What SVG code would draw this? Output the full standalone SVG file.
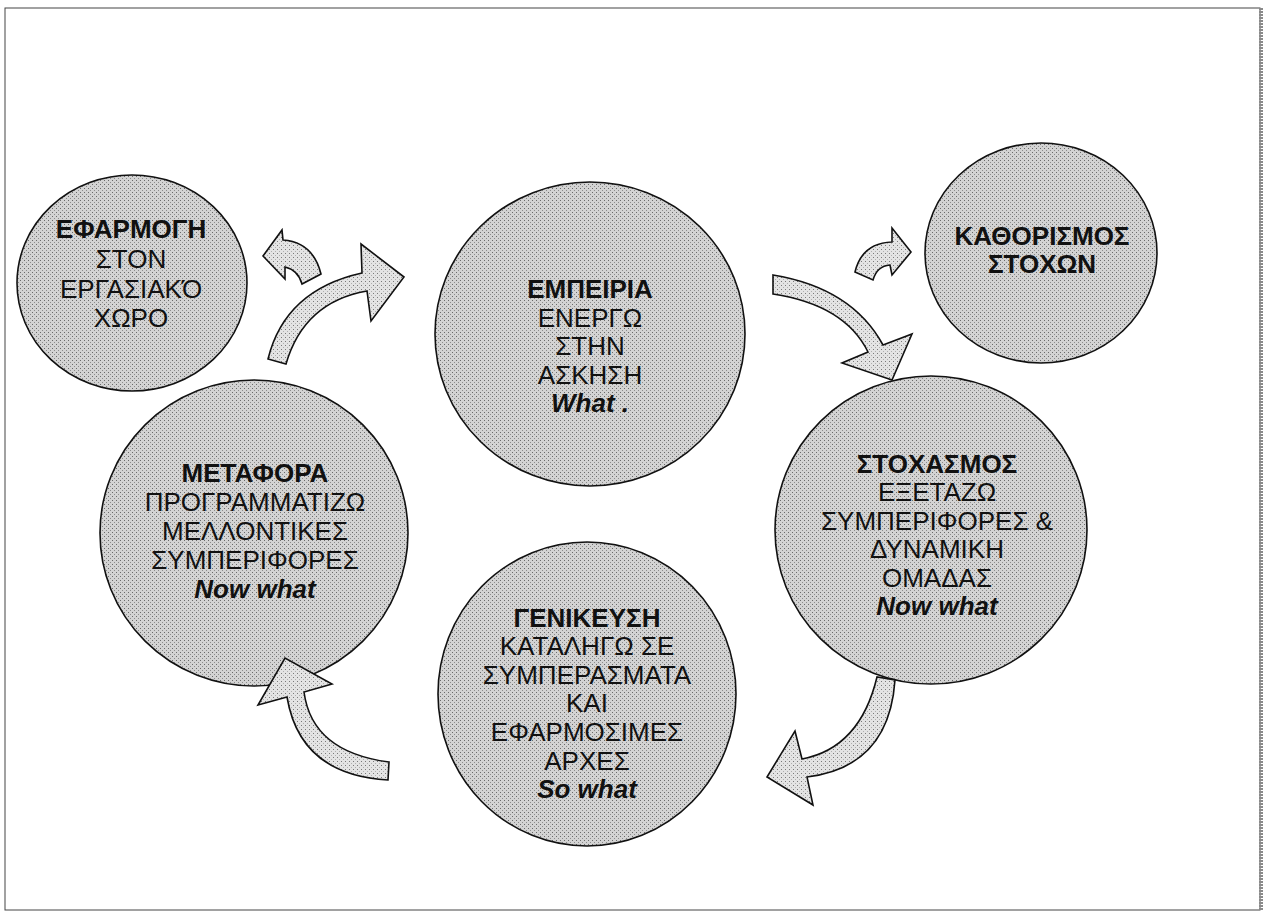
<svg xmlns="http://www.w3.org/2000/svg" width="1270" height="917" viewBox="0 0 1270 917">
<defs>
<pattern id="dots" width="4" height="4" patternUnits="userSpaceOnUse">
<rect width="4" height="4" fill="#d3d3d3"/>
<rect x="0" y="0" width="1" height="1" fill="#6a6a6a"/>
<rect x="2" y="2" width="1" height="1" fill="#8c8c8c"/>
</pattern>
<pattern id="dots2" width="4" height="4" patternUnits="userSpaceOnUse">
<rect width="4" height="4" fill="#e4e4e4"/>
<rect x="1" y="1" width="1" height="1" fill="#7a7a7a"/>
<rect x="3" y="3" width="1" height="1" fill="#b0b0b0"/>
</pattern>
</defs>
<style>
.node ellipse{fill:url(#dots);stroke:#111;stroke-width:1.6}
.arrow{fill:url(#dots2);stroke:#111;stroke-width:1.6;stroke-linejoin:miter}
text{font-family:"Liberation Sans",Arial,sans-serif;font-size:26px;fill:#111;text-anchor:middle}
.b{font-weight:bold}
.bi{font-weight:bold;font-style:italic}
</style>
<rect x="0" y="0" width="1270" height="917" fill="#ffffff"/>
<rect x="5" y="8" width="1255" height="902" fill="none" stroke="#444" stroke-width="1"/>
<line x1="1261" y1="8" x2="1261" y2="910" stroke="#8a8a8a" stroke-width="4" stroke-dasharray="2 1"/>

<g id="node-efarmogi" class="node">
<ellipse cx="132" cy="283" rx="115" ry="108"/>
<text><tspan class="b" x="131" y="238">ΕΦΑΡΜΟΓΗ</tspan><tspan x="131" y="268">ΣΤΟΝ</tspan><tspan x="131" y="298">ΕΡΓΑΣΙΑΚΌ</tspan><tspan x="131" y="327">ΧΩΡΟ</tspan></text>
</g>

<g id="node-empeiria" class="node">
<ellipse cx="590" cy="334" rx="155" ry="152"/>
<text><tspan class="b" x="590" y="298">ΕΜΠΕΙΡΙΑ</tspan><tspan x="590" y="327">ΕΝΕΡΓΩ</tspan><tspan x="590" y="355">ΣΤΗΝ</tspan><tspan x="590" y="384">ΑΣΚΗΣΗ</tspan><tspan class="bi" x="590" y="412">What .</tspan></text>
</g>

<g id="node-kathorismos" class="node">
<ellipse cx="1041" cy="253" rx="116" ry="110"/>
<text class="b"><tspan x="1042" y="245">ΚΑΘΟΡΙΣΜΟΣ</tspan><tspan x="1042" y="273">ΣΤΟΧΩΝ</tspan></text>
</g>

<g id="node-metafora" class="node">
<ellipse cx="254" cy="533" rx="154" ry="153"/>
<text><tspan class="b" x="255" y="482">ΜΕΤΑΦΟΡΑ</tspan><tspan x="255" y="511">ΠΡΟΓΡΑΜΜΑΤΙΖΩ</tspan><tspan x="255" y="540">ΜΕΛΛΟΝΤΙΚΕΣ</tspan><tspan x="255" y="569">ΣΥΜΠΕΡΙΦΟΡΕΣ</tspan><tspan class="bi" x="255" y="598">Now what</tspan></text>
</g>

<g id="node-stochasmos" class="node">
<ellipse cx="931" cy="530" rx="156" ry="154"/>
<text><tspan class="b" x="937" y="473">ΣΤΟΧΑΣΜΟΣ</tspan><tspan x="937" y="501">ΕΞΕΤΑΖΩ</tspan><tspan x="937" y="530">ΣΥΜΠΕΡΙΦΟΡΕΣ &amp;</tspan><tspan x="937" y="558">ΔΥΝΑΜΙΚΗ</tspan><tspan x="937" y="587">ΟΜΑΔΑΣ</tspan><tspan class="bi" x="937" y="615">Now what</tspan></text>
</g>

<g id="node-genikeusi" class="node">
<ellipse cx="587" cy="694" rx="149" ry="152"/>
<text><tspan class="b" x="587" y="627">ΓΕΝΙΚΕΥΣΗ</tspan><tspan x="587" y="655">ΚΑΤΑΛΗΓΩ ΣΕ</tspan><tspan x="587" y="684">ΣΥΜΠΕΡΑΣΜΑΤΑ</tspan><tspan x="587" y="712">ΚΑΙ</tspan><tspan x="587" y="741">ΕΦΑΡΜΟΣΙΜΕΣ</tspan><tspan x="587" y="770">ΑΡΧΕΣ</tspan><tspan class="bi" x="587" y="798">So what</tspan></text>
</g>

<g id="connectors">
<path id="arrow-to-efarmogi" class="arrow" d="M263,256 L282,230 L283,240 Q313,242 321,274 L302,284 Q298,270 285,267 L285,279 Z"/>
<path id="arrow-metafora-empeiria" class="arrow" d="M268,359 Q285,290 362,273 L361,244 L404,277 L371,321 L367,291 Q304,302 286,364 Z"/>
<path id="arrow-to-kathorismos" class="arrow" d="M911,252 L892,228 L892,242 Q862,243 855,272 L873,280 Q877,266 890,265 L892,275 Z"/>
<path id="arrow-empeiria-stochasmos" class="arrow" d="M773,275 Q852,288 883,345 L912,334 L892,380 L842,363 L868,352 Q845,305 773,294 Z"/>
<path id="arrow-stochasmos-genikeusi" class="arrow" d="M895,680 Q889,767 807,777 L813,805 L767,777 L795,731 L802,759 Q860,748 877,677 Z"/>
<path id="arrow-genikeusi-metafora" class="arrow" d="M388,780 Q300,775 287,697 L258,705 L285,658 L332,684 L304,692 Q312,752 389,762 Z"/>
</g>
</svg>
